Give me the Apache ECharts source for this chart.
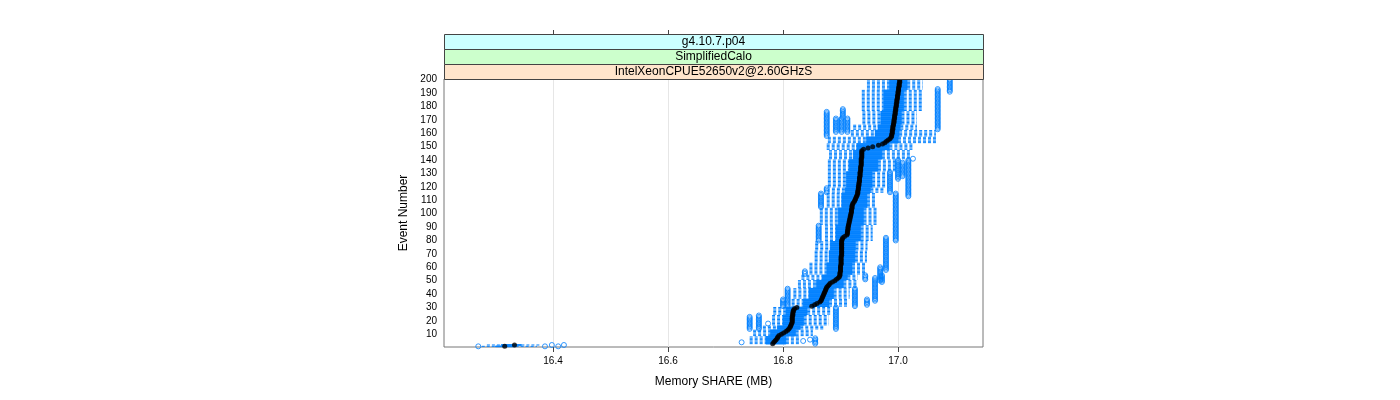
<!DOCTYPE html>
<html>
<head>
<meta charset="utf-8">
<script src="https://cdn.jsdelivr.net/npm/echarts@6/dist/echarts.min.js"></script>
<style>
html,body{margin:0;padding:0;background:#fff;}
#chart{width:1400px;height:400px;}
</style>
</head>
<body>
<div id="chart"></div>
<script>
// ---------- data ----------
const stripLabels = ['g4.10.7.p04', 'SimplifiedCalo', 'IntelXeonCPUE52650v2@2.60GHzS'];
const xTicks = [16.4, 16.6, 16.8, 17.0];
const xRange = [16.2104, 17.1478];
const events = Array.from({length: 200}, (_, i) => String(i + 1));

const lo = [
16.276,16.285,16.742,16.742,16.742,16.742,16.742,16.742,16.748,16.748,
16.748,16.748,16.748,16.765,16.765,16.765,16.781,16.781,16.781,16.781,
16.781,16.781,16.781,16.781,16.783,16.783,16.783,16.783,16.783,16.783,
16.815,16.815,16.815,16.815,16.815,16.815,16.818,16.818,16.818,16.818,
16.818,16.818,16.818,16.818,16.826,16.826,16.826,16.826,16.826,16.826,
16.832,16.832,16.832,16.832,16.846,16.846,16.846,16.846,16.846,16.846,
16.846,16.846,16.846,16.855,16.855,16.855,16.855,16.855,16.855,16.855,
16.855,16.855,16.856,16.856,16.856,16.856,16.856,16.856,16.856,16.873,
16.873,16.873,16.873,16.873,16.873,16.873,16.873,16.873,16.873,16.873,
16.873,16.864,16.864,16.864,16.864,16.864,16.864,16.864,16.864,16.864,
16.864,16.864,16.864,16.864,16.876,16.876,16.876,16.876,16.876,16.876,
16.876,16.876,16.876,16.876,16.876,16.885,16.885,16.885,16.885,16.878,
16.878,16.878,16.878,16.878,16.878,16.878,16.878,16.878,16.878,16.878,
16.878,16.878,16.878,16.878,16.878,16.878,16.878,16.878,16.878,16.878,
16.880,16.880,16.880,16.880,16.880,16.880,16.880,16.876,16.876,16.876,
16.876,16.876,16.878,16.878,16.878,16.878,16.878,16.918,16.918,16.918,
16.918,16.918,16.922,16.922,16.922,16.922,16.938,16.938,16.938,16.938,
16.938,16.938,16.938,16.938,16.938,16.938,16.937,16.937,16.937,16.937,
16.937,16.937,16.937,16.937,16.937,16.937,16.937,16.937,16.937,16.937,
16.937,16.937,16.946,16.946,16.946,16.946,16.946,16.946,16.946,16.946
];
const q1 = [
16.300,16.310,16.770,16.770,16.770,16.770,16.770,16.770,16.778,16.778,
16.778,16.778,16.778,16.790,16.790,16.790,16.800,16.800,16.800,16.800,
16.800,16.800,16.800,16.800,16.805,16.805,16.805,16.805,16.805,16.805,
16.835,16.835,16.835,16.835,16.835,16.835,16.845,16.845,16.845,16.845,
16.845,16.845,16.845,16.845,16.858,16.858,16.858,16.858,16.858,16.858,
16.868,16.868,16.868,16.868,16.876,16.876,16.876,16.876,16.876,16.876,
16.876,16.876,16.876,16.880,16.880,16.880,16.880,16.880,16.880,16.880,
16.880,16.880,16.882,16.882,16.882,16.882,16.882,16.882,16.882,16.892,
16.892,16.892,16.892,16.892,16.892,16.892,16.892,16.892,16.892,16.892,
16.892,16.896,16.896,16.896,16.896,16.896,16.896,16.896,16.896,16.896,
16.896,16.896,16.896,16.896,16.902,16.902,16.902,16.902,16.902,16.902,
16.902,16.902,16.902,16.902,16.902,16.908,16.908,16.908,16.908,16.910,
16.910,16.910,16.910,16.910,16.910,16.910,16.910,16.910,16.910,16.910,
16.910,16.915,16.915,16.915,16.915,16.915,16.915,16.915,16.915,16.915,
16.922,16.922,16.922,16.922,16.922,16.922,16.922,16.928,16.928,16.928,
16.928,16.928,16.945,16.945,16.945,16.945,16.945,16.960,16.960,16.960,
16.960,16.960,16.965,16.965,16.965,16.965,16.970,16.970,16.970,16.970,
16.970,16.970,16.970,16.970,16.970,16.970,16.975,16.975,16.975,16.975,
16.975,16.975,16.975,16.975,16.975,16.975,16.975,16.975,16.975,16.975,
16.975,16.975,16.985,16.985,16.985,16.985,16.985,16.985,16.985,16.985
];
const med = [
16.316,16.333,16.782,16.784,16.786,16.788,16.790,16.791,16.793,16.797,
16.801,16.805,16.808,16.810,16.812,16.813,16.814,16.815,16.816,16.816,
16.816,16.816,16.816,16.817,16.817,16.817,16.818,16.818,16.820,16.824,
16.850,16.855,16.859,16.864,16.866,16.867,16.868,16.869,16.870,16.871,
16.872,16.873,16.874,16.875,16.876,16.878,16.880,16.882,16.886,16.890,
16.893,16.896,16.898,16.899,16.899,16.899,16.900,16.900,16.900,16.900,
16.900,16.901,16.901,16.901,16.901,16.901,16.901,16.901,16.902,16.902,
16.902,16.902,16.902,16.902,16.902,16.902,16.902,16.902,16.902,16.902,
16.903,16.904,16.907,16.911,16.912,16.912,16.912,16.913,16.913,16.913,
16.914,16.914,16.915,16.915,16.916,16.916,16.917,16.917,16.918,16.918,
16.919,16.919,16.919,16.920,16.920,16.920,16.921,16.922,16.924,16.925,
16.926,16.927,16.928,16.929,16.930,16.930,16.930,16.931,16.931,16.931,
16.932,16.932,16.932,16.933,16.933,16.933,16.933,16.934,16.934,16.934,
16.934,16.935,16.935,16.935,16.935,16.936,16.936,16.936,16.936,16.936,
16.936,16.937,16.937,16.937,16.937,16.937,16.937,16.940,16.948,16.956,
16.966,16.973,16.977,16.980,16.983,16.986,16.988,16.989,16.989,16.990,
16.990,16.990,16.991,16.991,16.991,16.992,16.992,16.993,16.993,16.993,
16.994,16.994,16.994,16.995,16.995,16.995,16.996,16.996,16.996,16.997,
16.997,16.997,16.998,16.998,16.998,16.999,16.999,16.999,17.000,17.000,
17.000,17.001,17.001,17.001,17.002,17.002,17.002,17.003,17.003,17.003
];
const q3 = [
16.335,16.345,16.805,16.805,16.805,16.805,16.805,16.805,16.822,16.822,
16.822,16.822,16.822,16.830,16.830,16.830,16.836,16.836,16.836,16.836,
16.836,16.836,16.836,16.836,16.842,16.842,16.842,16.842,16.842,16.842,
16.880,16.880,16.880,16.880,16.880,16.880,16.888,16.888,16.888,16.888,
16.888,16.888,16.888,16.888,16.905,16.905,16.905,16.905,16.905,16.905,
16.912,16.912,16.912,16.912,16.920,16.920,16.920,16.920,16.920,16.920,
16.920,16.920,16.920,16.925,16.925,16.925,16.925,16.925,16.925,16.925,
16.925,16.925,16.926,16.926,16.926,16.926,16.926,16.926,16.926,16.935,
16.935,16.935,16.935,16.935,16.935,16.935,16.935,16.935,16.935,16.935,
16.935,16.940,16.940,16.940,16.940,16.940,16.940,16.940,16.940,16.940,
16.940,16.940,16.940,16.940,16.946,16.946,16.946,16.946,16.946,16.946,
16.946,16.946,16.946,16.946,16.946,16.952,16.952,16.952,16.952,16.955,
16.955,16.955,16.955,16.955,16.955,16.955,16.955,16.955,16.955,16.955,
16.955,16.965,16.965,16.965,16.965,16.965,16.965,16.965,16.965,16.965,
16.972,16.972,16.972,16.972,16.972,16.972,16.972,16.985,16.985,16.985,
16.985,16.985,17.000,17.000,17.000,17.000,17.000,17.002,17.002,17.002,
17.002,17.002,17.004,17.004,17.004,17.004,17.006,17.006,17.006,17.006,
17.006,17.006,17.006,17.006,17.006,17.006,17.010,17.010,17.010,17.010,
17.010,17.010,17.010,17.010,17.010,17.010,17.010,17.010,17.010,17.010,
17.010,17.010,17.016,17.016,17.016,17.016,17.016,17.016,17.016,17.016
];
const hi = [
16.372,16.378,16.828,16.828,16.828,16.828,16.828,16.828,16.852,16.852,
16.852,16.852,16.852,16.872,16.872,16.872,16.880,16.880,16.880,16.880,
16.880,16.880,16.880,16.880,16.882,16.882,16.882,16.882,16.882,16.882,
16.912,16.912,16.912,16.912,16.912,16.912,16.916,16.916,16.916,16.916,
16.916,16.916,16.916,16.916,16.928,16.928,16.928,16.928,16.928,16.928,
16.930,16.930,16.930,16.930,16.946,16.946,16.946,16.946,16.946,16.946,
16.946,16.946,16.946,16.946,16.946,16.946,16.946,16.946,16.946,16.946,
16.946,16.946,16.947,16.947,16.947,16.947,16.947,16.947,16.947,16.956,
16.956,16.956,16.956,16.956,16.956,16.956,16.956,16.956,16.956,16.956,
16.956,16.963,16.963,16.963,16.963,16.963,16.963,16.963,16.963,16.963,
16.963,16.963,16.963,16.963,16.963,16.963,16.963,16.963,16.963,16.963,
16.963,16.963,16.963,16.963,16.963,16.978,16.978,16.978,16.978,16.981,
16.981,16.981,16.981,16.981,16.981,16.981,16.981,16.981,16.981,16.981,
16.981,16.996,16.996,16.996,16.996,16.996,16.996,16.996,16.996,16.996,
17.024,17.024,17.024,17.024,17.024,17.024,17.024,17.028,17.028,17.028,
17.028,17.028,17.066,17.066,17.066,17.066,17.066,17.066,17.066,17.066,
17.066,17.066,17.033,17.033,17.033,17.033,17.033,17.033,17.033,17.033,
17.033,17.033,17.033,17.033,17.033,17.033,17.042,17.042,17.042,17.042,
17.042,17.042,17.042,17.042,17.042,17.042,17.042,17.042,17.042,17.042,
17.042,17.042,17.043,17.043,17.043,17.043,17.043,17.043,17.043,17.043
];
// outliers: [value, first event, last event] (same value repeated over a run of events)
const outlierRuns = [
  [16.270,1,1],[16.386,1,1],[16.409,1,1],[16.398,2,2],[16.419,2,2],
  [16.728,4,4],[16.835,5,5],[16.847,6,6],[16.856,3,7],
  [16.742,14,23],[16.758,14,24],[16.774,18,18],[16.892,14,30],
  [16.800,31,36],[16.808,31,44],[16.925,31,44],[16.946,32,36],
  [16.960,35,52],[16.943,51,54],[16.972,49,54],[16.969,50,60],[16.838,55,57],
  [16.979,58,82],[16.862,80,91],[16.996,80,115],[16.866,105,115],
  [16.876,116,119],[16.986,116,131],[17.018,113,140],[17.000,126,140],[17.008,128,138],
  [17.026,141,141],[16.876,158,176],[16.892,161,171],[16.902,161,171],[16.912,161,171],
  [16.904,172,178],[17.069,163,193],[17.090,191,200]
];

// ---------- build chart ----------
const BLUE = '#0080ff';
const FONT = '"Liberation Sans", Arial, Helvetica, sans-serif';

const boxData = events.map((e, i) => [i, lo[i], q1[i], med[i], q3[i], hi[i]]);
const medData = events.map((e, i) => [med[i], i]);
const outData = [];
outlierRuns.forEach(([v, a, b]) => { for (let ev = a; ev <= b; ev++) outData.push([v, ev - 1]); });

const chart = echarts.init(document.getElementById('chart'), null, {renderer: 'canvas'});

const G = {left: 444, right: 417, top: 79, bottom: 53};
const stripTop = 34, stripH = 15;
const stripColors = ['#ccffff', '#ccffcc', '#ffe5cc'];
const graphics = [];
stripLabels.forEach((t, k) => {
  const y = stripTop + k * stripH;
  graphics.push({
    type: 'rect', left: G.left, top: y, z: 10,
    shape: {width: 1400 - G.left - G.right, height: stripH},
    style: {fill: stripColors[k], stroke: '#444', lineWidth: 1}
  });
  graphics.push({
    type: 'text', z: 11,
    x: G.left + (1400 - G.left - G.right) / 2, y: y + stripH / 2 + 0.5,
    style: {text: t, fill: '#000', font: '12px ' + FONT, textAlign: 'center', textVerticalAlign: 'middle'}
  });
});

chart.setOption({
  animation: false,
  backgroundColor: '#fff',
  textStyle: {fontFamily: FONT},
  grid: {left: G.left, right: G.right, top: G.top, bottom: G.bottom, show: true, borderColor: '#777', borderWidth: 1, backgroundColor: 'transparent'},
  graphic: graphics,
  xAxis: [{
    type: 'value', position: 'bottom', min: xRange[0], max: xRange[1],
    axisLine: {show: false},
    axisTick: {show: true, customValues: xTicks, length: 5, lineStyle: {color: '#444'}},
    axisLabel: {customValues: xTicks, formatter: v => v.toFixed(1), color: '#000', fontSize: 10, margin: 9, fontFamily: FONT},
    splitLine: {show: false},
    name: 'Memory SHARE (MB)', nameLocation: 'middle', nameGap: 29,
    nameTextStyle: {fontSize: 12, color: '#000', fontFamily: FONT}
  }, {
    type: 'value', position: 'top', offset: 45, min: xRange[0], max: xRange[1],
    axisLine: {show: false},
    axisTick: {show: true, customValues: xTicks, length: 4, lineStyle: {color: '#444'}},
    axisLabel: {show: false},
    splitLine: {show: false}
  }],
  yAxis: {
    type: 'category', data: events, boundaryGap: true,
    axisLine: {show: false}, axisTick: {show: false},
    axisLabel: {interval: (idx, val) => (idx + 1) % 10 === 0, color: '#000', fontSize: 10, margin: 7, fontFamily: FONT},
    splitLine: {show: false},
    name: 'Event Number', nameLocation: 'middle', nameGap: 34,
    nameTextStyle: {fontSize: 12, color: '#000', fontFamily: FONT}
  },
  series: [{
    type: 'custom', name: 'grid', z: 1, silent: true,
    data: xTicks.map(v => [v, 0]),
    encode: {x: 0, y: 1},
    renderItem: (params, api) => {
      const x = Math.round(api.coord([api.value(0), 0])[0]) + 0.5;
      const cs = params.coordSys;
      return {type: 'line', shape: {x1: x, y1: cs.y, x2: x, y2: cs.y + cs.height}, style: {stroke: '#e6e6e6', lineWidth: 1}};
    }
  }, {
    type: 'custom', name: 'box', z: 2, silent: true,
    data: boxData,
    encode: {y: 0, x: [1, 2, 3, 4, 5]},
    renderItem: (params, api) => {
      const cat = api.value(0);
      const pLo = api.coord([api.value(1), cat]);
      const pQ1 = api.coord([api.value(2), cat]);
      const pQ3 = api.coord([api.value(4), cat]);
      const pHi = api.coord([api.value(5), cat]);
      const band = api.size([0, 1])[1];
      const h = band * 0.5;
      const y = pLo[1];
      return {type: 'group', children: [
        {type: 'line', shape: {x1: pLo[0], y1: y, x2: pQ1[0], y2: y}, style: {stroke: BLUE, lineWidth: 1, lineDash: [3, 2]}},
        {type: 'line', shape: {x1: pQ3[0], y1: y, x2: pHi[0], y2: y}, style: {stroke: BLUE, lineWidth: 1, lineDash: [3, 2]}},
        {type: 'rect', shape: {x: pQ1[0], y: y - h / 2, width: pQ3[0] - pQ1[0], height: h}, style: {stroke: BLUE, fill: BLUE, lineWidth: 1}}
      ]};
    }
  }, {
    type: 'scatter', name: 'median', z: 3, silent: true,
    data: medData, symbol: 'circle', symbolSize: 5,
    itemStyle: {color: '#000'}
  }, {
    type: 'scatter', name: 'outliers', z: 4, silent: true,
    data: outData, symbol: 'circle', symbolSize: 5,
    itemStyle: {color: 'rgba(0,0,0,0)', borderColor: BLUE, borderWidth: 1}
  }]
});
</script>
</body>
</html>
